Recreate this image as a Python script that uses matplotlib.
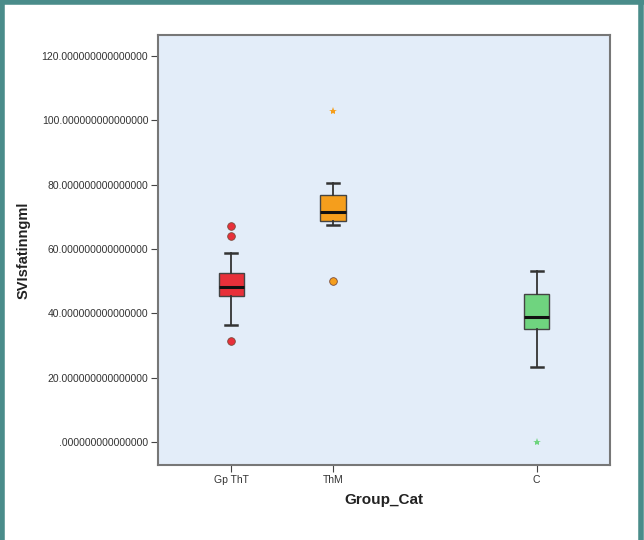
import matplotlib
matplotlib.use("Agg")
import matplotlib.pyplot as plt
from matplotlib.lines import Line2D

plt.rcParams["font.family"] = ["Liberation Sans", "DejaVu Sans"]

categories = ["Gp ThT", "ThM", "C"]
positions = [1, 2, 4]
q1 = [45.3, 68.8, 35.0]
median = [48.3, 71.4, 38.9]
q3 = [52.7, 76.9, 46.1]
whis_lo = [36.4, 67.6, 23.2]
whis_hi = [58.7, 80.4, 53.3]
outliers = [[67.3, 64.2, 31.4], [50.0], []]
extremes = [[], [102.9], [0.0]]
colors = ["#e8303a", "#f59e1c", "#6fd47f"]

fig = plt.figure(figsize=(6.44, 5.4), dpi=100)
ax = fig.add_axes([158/644, 1-465/540, (610-158)/644, (465-35)/540])
ax.set_facecolor("#e3edf9")

stats = []
for i in range(len(categories)):
    stats.append(dict(med=median[i], q1=q1[i], q3=q3[i], whislo=whis_lo[i],
                      whishi=whis_hi[i], fliers=[], label=categories[i]))

bp = ax.bxp(stats, positions=positions, widths=0.25, patch_artist=True,
            showfliers=False,
            medianprops=dict(color="#111111", linewidth=2.2),
            whiskerprops=dict(color="#333333", linewidth=1.3),
            capprops=dict(color="#333333", linewidth=1.8),
            boxprops=dict(edgecolor="#444444", linewidth=1.0))
for patch, c in zip(bp["boxes"], colors):
    patch.set_facecolor(c)
for cap in bp["caps"]:
    x = cap.get_xdata()
    m = (x[0] + x[1]) / 2
    cap.set_xdata([m - 0.06, m + 0.06])

for p, outs, c in zip(positions, outliers, colors):
    if outs:
        ax.plot([p]*len(outs), outs, "o", color=c, markeredgecolor="#7a4a3a",
                markeredgewidth=0.6, markersize=5.5, zorder=3)
for p, ex, c in zip(positions, extremes, colors):
    if ex:
        ax.plot([p]*len(ex), ex, "*", color=c, markersize=6, markeredgewidth=0, zorder=3)

ax.set_xlim(0.28, 4.72)
ax.set_ylim(-7.1, 126.5)
yt = [0, 20, 40, 60, 80, 100, 120]
ax.set_yticks(yt)
ax.set_yticklabels([("%.15f" % v).lstrip("0") if v == 0 else "%.15f" % v for v in yt],
                   fontsize=7.5, color="#333333")
ax.set_xticks(positions)
ax.set_xticklabels(categories, fontsize=7.5, color="#333333")
ax.tick_params(axis="both", length=5, width=0.8, color="#444444", pad=2)
for s in ax.spines.values():
    s.set_color("#777777")
    s.set_linewidth(1.5)

ax.set_xlabel("Group_Cat", fontsize=11, fontweight="bold", color="#222222", labelpad=6)
ax.set_ylabel("SVIsfatinngml", fontsize=10.5, fontweight="bold", color="#222222", labelpad=8)

bc = "#4a8c8a"
fig.add_artist(Line2D([0.003, 0.003], [0, 1], transform=fig.transFigure, color=bc, linewidth=4))
fig.add_artist(Line2D([0, 1], [0.997, 0.997], transform=fig.transFigure, color=bc, linewidth=4))
fig.add_artist(Line2D([0.995, 0.995], [0, 1], transform=fig.transFigure, color=bc, linewidth=4))

fig.savefig("out.png", dpi=100)
